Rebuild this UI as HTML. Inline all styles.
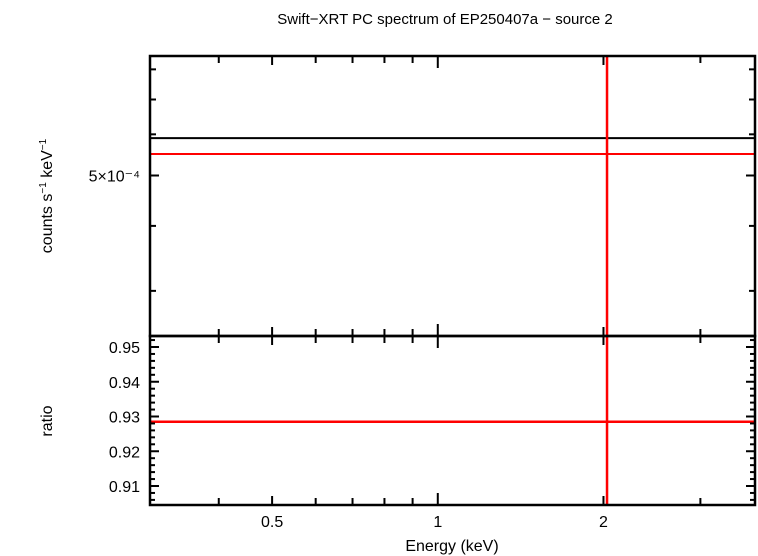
<!DOCTYPE html>
<html><head><meta charset="utf-8"><style>
body{margin:0;background:#fff}
svg{display:block;font-family:"Liberation Sans",sans-serif}
</style></head><body>
<svg id="c" width="758" height="556" xmlns="http://www.w3.org/2000/svg">
<text x="445" y="24" font-size="15" text-anchor="middle">Swift−XRT PC spectrum of EP250407a − source 2</text>
<g id="g"></g>
<text x="452" y="551" font-size="16" text-anchor="middle">Energy (keV)</text>
<text transform="translate(52,196) rotate(-90)" font-size="16" text-anchor="middle">counts s<tspan font-size="10" dy="-6">−1</tspan><tspan dy="6"> keV</tspan><tspan font-size="10" dy="-6">−1</tspan></text>
<text transform="translate(52,421) rotate(-90)" font-size="16" text-anchor="middle">ratio</text>
</svg>
<script>
const xTicks=[0.5,1,2];
const xTickLabels=["0.5","1","2"];
const xMinor=[0.4,0.6,0.7,0.8,0.9,3];
const topYTicks=[5e-4];
const topYLabels=["5×10⁻⁴"];
const topYMinor=[3e-4,4e-4,6e-4,7e-4,8e-4];
const ratioTicks=[0.91,0.92,0.93,0.94,0.95];
const ratioLabels=["0.91","0.92","0.93","0.94","0.95"];
const dataLevel=[5.9e-4];
const modelLevel=[5.5e-4];
const ratioLevel=[0.9285];
const markerEnergy=[2.03];

const L=150,R=755,T=56,M=336,B=505;
const xMin=0.3,xMax=3.77;
const x=e=>L+(Math.log10(e)-Math.log10(xMin))/(Math.log10(xMax)-Math.log10(xMin))*(R-L);
const yT=v=>175.5-(Math.log10(v)-Math.log10(5e-4))*520;
const yR=v=>347-(v-0.95)*3475;
const g=document.getElementById('g');
const NS='http://www.w3.org/2000/svg';
function ln(x1,y1,x2,y2,c,w,n){const l=document.createElementNS(NS,'line');
l.setAttribute('x1',x1);l.setAttribute('y1',y1);l.setAttribute('x2',x2);l.setAttribute('y2',y2);
l.setAttribute('stroke',c);l.setAttribute('stroke-width',w);


g.appendChild(l);return l;}
function tx(xx,yy,s,a,n){const t=document.createElementNS(NS,'text');
t.setAttribute('x',xx);t.setAttribute('y',yy);t.setAttribute('font-size','16');t.setAttribute('text-anchor',a);t.textContent=s;


g.appendChild(t);}
// series
dataLevel.forEach(v=>ln(L,yT(v),R,yT(v),'#000',2,'data-line'));
modelLevel.forEach(v=>ln(L,yT(v),R,yT(v),'#f00',2,'model-line'));
ratioLevel.forEach(v=>ln(L,yR(v),R,yR(v),'#f00',2.5,'ratio-line'));
markerEnergy.forEach(e=>ln(x(e),T,x(e),B,'#f00',2.5,'energy-marker'));
// x ticks
[[T,1],[M,1],[M,-1],[B,-1]].forEach(([yy,d])=>{
 xTicks.forEach(e=>ln(x(e),yy,x(e),yy+d*(e===1?12:9),'#000',2,'x-major-tick'));
 xMinor.forEach(e=>ln(x(e),yy,x(e),yy+d*7,'#000',2,'x-minor-tick'));
});
xTicks.forEach((e,i)=>tx(x(e),527,xTickLabels[i],'middle','x-tick-label'));
// top y ticks
[[L,1],[R,-1]].forEach(([xx,d])=>{
 topYTicks.forEach(v=>ln(xx,yT(v),xx+d*9,yT(v),'#000',2,'top-y-major-tick'));
 topYMinor.forEach(v=>ln(xx,yT(v),xx+d*6,yT(v),'#000',2,'top-y-minor-tick'));
 ratioTicks.forEach(v=>ln(xx,yR(v),xx+d*9,yR(v),'#000',2,'ratio-major-tick'));
 for(let v=0.906;v<0.9535;v+=0.002){ if(Math.abs((v*100)-Math.round(v*100))>1e-6) ln(xx,yR(v),xx+d*5,yR(v),'#000',2,'ratio-minor-tick');}
});
topYTicks.forEach((v,i)=>tx(140,yT(v)+6,topYLabels[i],'end','top-y-tick-label'));
ratioTicks.forEach((v,i)=>tx(140,yR(v)+6,ratioLabels[i],'end','ratio-tick-label'));
// frames
const f=(y1,y2,n)=>{const r=document.createElementNS(NS,'rect');r.setAttribute('x',L);r.setAttribute('y',y1);r.setAttribute('width',R-L);r.setAttribute('height',y2-y1);r.setAttribute('fill','none');r.setAttribute('stroke','#000');r.setAttribute('stroke-width','2.5');


g.appendChild(r);};
f(T,M,'spectrum-panel-frame');f(M,B,'ratio-panel-frame');
</script>
</body></html>
